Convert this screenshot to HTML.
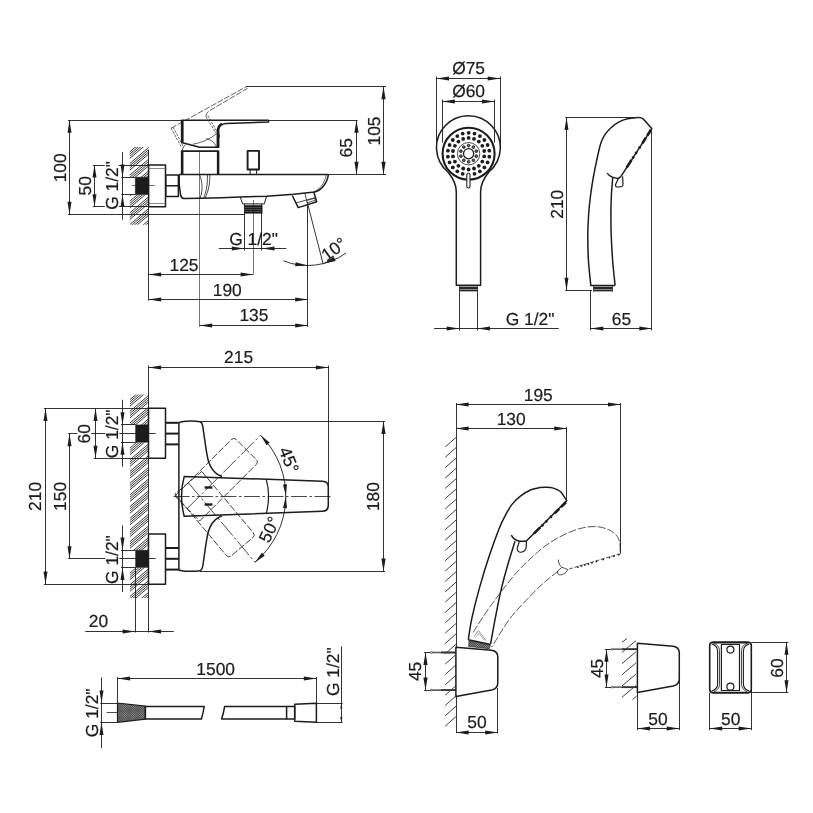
<!DOCTYPE html>
<html><head><meta charset="utf-8"><title>Drawing</title>
<style>
html,body{margin:0;padding:0;background:#fff;}
body{width:813px;height:813px;overflow:hidden;}
svg{display:block;will-change:transform;}
svg text{font-family:"Liberation Sans",sans-serif;fill:#1c1c1c;stroke:#1c1c1c;stroke-width:0.2px;letter-spacing:0;text-rendering:geometricPrecision;}
</style></head><body>
<svg width="813" height="813" viewBox="0 0 813 813" stroke-linecap="butt" stroke-linejoin="round">
<rect width="813" height="813" fill="#ffffff"/>
<line x1="68.0" y1="120.5" x2="181.5" y2="120.5" stroke="#1c1c1c" stroke-width="0.9"/>
<line x1="68.0" y1="214.5" x2="244.4" y2="214.5" stroke="#1c1c1c" stroke-width="0.9"/>
<line x1="69.5" y1="120.2" x2="69.5" y2="214.4" stroke="#1c1c1c" stroke-width="0.9"/>
<polygon points="69.5,120.2 71.5,132.8 67.5,132.8" fill="#1c1c1c"/>
<polygon points="69.5,214.4 67.5,201.8 71.5,201.8" fill="#1c1c1c"/>
<text x="65.8" y="167.8" font-size="17.4" text-anchor="middle" transform="rotate(-90 65.8 167.8)">100</text>
<line x1="92.8" y1="165.5" x2="148.6" y2="165.5" stroke="#1c1c1c" stroke-width="0.9"/>
<line x1="92.8" y1="206.5" x2="148.6" y2="206.5" stroke="#1c1c1c" stroke-width="0.9"/>
<line x1="94.5" y1="165.0" x2="94.5" y2="206.8" stroke="#1c1c1c" stroke-width="0.9"/>
<polygon points="94.5,165.0 96.5,177.6 92.5,177.6" fill="#1c1c1c"/>
<polygon points="94.5,206.8 92.5,194.2 96.5,194.2" fill="#1c1c1c"/>
<text x="90.6" y="185.8" font-size="17.4" text-anchor="middle" transform="rotate(-90 90.6 185.8)">50</text>
<line x1="122.5" y1="152.1" x2="122.5" y2="219.7" stroke="#1c1c1c" stroke-width="0.9"/>
<polygon points="122.5,177.2 120.5,164.6 124.5,164.6" fill="#1c1c1c"/>
<polygon points="122.5,194.5 124.5,207.1 120.5,207.1" fill="#1c1c1c"/>
<line x1="121.3" y1="177.5" x2="135.3" y2="177.5" stroke="#1c1c1c" stroke-width="0.9"/>
<line x1="121.3" y1="194.5" x2="135.3" y2="194.5" stroke="#1c1c1c" stroke-width="0.9"/>
<clipPath id="gh1"><path d="M129.8,147 L148.6,147 L148.6,177.2 L129.8,177.2 Z"/></clipPath>
<g clip-path="url(#gh1)" stroke="#222" stroke-width="0.9">
<line x1="149.6" y1="123.25" x2="128.8" y2="140.93"/>
<line x1="149.6" y1="125.45" x2="128.8" y2="143.13"/>
<line x1="149.6" y1="127.65" x2="128.8" y2="145.33"/>
<line x1="149.6" y1="129.85" x2="128.8" y2="147.53"/>
<line x1="149.6" y1="134.95" x2="128.8" y2="152.63"/>
<line x1="149.6" y1="137.15" x2="128.8" y2="154.83"/>
<line x1="149.6" y1="139.35" x2="128.8" y2="157.03"/>
<line x1="149.6" y1="141.55" x2="128.8" y2="159.23"/>
<line x1="149.6" y1="146.65" x2="128.8" y2="164.33"/>
<line x1="149.6" y1="148.85" x2="128.8" y2="166.53"/>
<line x1="149.6" y1="151.05" x2="128.8" y2="168.73"/>
<line x1="149.6" y1="153.25" x2="128.8" y2="170.93"/>
<line x1="149.6" y1="158.35" x2="128.8" y2="176.03"/>
<line x1="149.6" y1="160.55" x2="128.8" y2="178.23"/>
<line x1="149.6" y1="162.75" x2="128.8" y2="180.43"/>
<line x1="149.6" y1="164.95" x2="128.8" y2="182.63"/>
<line x1="149.6" y1="170.05" x2="128.8" y2="187.73"/>
<line x1="149.6" y1="172.25" x2="128.8" y2="189.93"/>
<line x1="149.6" y1="174.45" x2="128.8" y2="192.13"/>
<line x1="149.6" y1="176.65" x2="128.8" y2="194.33"/>
<line x1="149.6" y1="181.75" x2="128.8" y2="199.43"/>
<line x1="149.6" y1="183.95" x2="128.8" y2="201.63"/>
<line x1="149.6" y1="186.15" x2="128.8" y2="203.83"/>
<line x1="149.6" y1="188.35" x2="128.8" y2="206.03"/>
<line x1="149.6" y1="193.45" x2="128.8" y2="211.13"/>
<line x1="149.6" y1="195.65" x2="128.8" y2="213.33"/>
<line x1="149.6" y1="197.85" x2="128.8" y2="215.53"/>
<line x1="149.6" y1="200.05" x2="128.8" y2="217.73"/>
<line x1="149.6" y1="205.15" x2="128.8" y2="222.83"/>
<line x1="149.6" y1="207.35" x2="128.8" y2="225.03"/>
<line x1="149.6" y1="209.55" x2="128.8" y2="227.23"/>
<line x1="149.6" y1="211.75" x2="128.8" y2="229.43"/>
</g>
<clipPath id="gh2"><path d="M129.8,194.5 L148.6,194.5 L148.6,224.8 L129.8,224.8 Z"/></clipPath>
<g clip-path="url(#gh2)" stroke="#222" stroke-width="0.9">
<line x1="149.6" y1="172.65" x2="128.8" y2="190.33"/>
<line x1="149.6" y1="174.85" x2="128.8" y2="192.53"/>
<line x1="149.6" y1="177.05" x2="128.8" y2="194.73"/>
<line x1="149.6" y1="179.25" x2="128.8" y2="196.93"/>
<line x1="149.6" y1="184.35" x2="128.8" y2="202.03"/>
<line x1="149.6" y1="186.55" x2="128.8" y2="204.23"/>
<line x1="149.6" y1="188.75" x2="128.8" y2="206.43"/>
<line x1="149.6" y1="190.95" x2="128.8" y2="208.63"/>
<line x1="149.6" y1="196.05" x2="128.8" y2="213.73"/>
<line x1="149.6" y1="198.25" x2="128.8" y2="215.93"/>
<line x1="149.6" y1="200.45" x2="128.8" y2="218.13"/>
<line x1="149.6" y1="202.65" x2="128.8" y2="220.33"/>
<line x1="149.6" y1="207.75" x2="128.8" y2="225.43"/>
<line x1="149.6" y1="209.95" x2="128.8" y2="227.63"/>
<line x1="149.6" y1="212.15" x2="128.8" y2="229.83"/>
<line x1="149.6" y1="214.35" x2="128.8" y2="232.03"/>
<line x1="149.6" y1="219.45" x2="128.8" y2="237.13"/>
<line x1="149.6" y1="221.65" x2="128.8" y2="239.33"/>
<line x1="149.6" y1="223.85" x2="128.8" y2="241.53"/>
<line x1="149.6" y1="226.05" x2="128.8" y2="243.73"/>
<line x1="149.6" y1="231.15" x2="128.8" y2="248.83"/>
<line x1="149.6" y1="233.35" x2="128.8" y2="251.03"/>
<line x1="149.6" y1="235.55" x2="128.8" y2="253.23"/>
<line x1="149.6" y1="237.75" x2="128.8" y2="255.43"/>
<line x1="149.6" y1="242.85" x2="128.8" y2="260.53"/>
<line x1="149.6" y1="245.05" x2="128.8" y2="262.73"/>
<line x1="149.6" y1="247.25" x2="128.8" y2="264.93"/>
<line x1="149.6" y1="249.45" x2="128.8" y2="267.13"/>
<line x1="149.6" y1="254.55" x2="128.8" y2="272.23"/>
<line x1="149.6" y1="256.75" x2="128.8" y2="274.43"/>
<line x1="149.6" y1="258.95" x2="128.8" y2="276.63"/>
<line x1="149.6" y1="261.15" x2="128.8" y2="278.83"/>
</g>
<line x1="148.5" y1="150.0" x2="148.5" y2="300.5" stroke="#1c1c1c" stroke-width="0.9"/>
<rect x="135.3" y="177.2" width="13.3" height="17.3" fill="#1c1c1c" stroke="#1c1c1c" stroke-width="0.5"/>
<line x1="131.9" y1="185.5" x2="155.2" y2="185.5" stroke="#1c1c1c" stroke-width="0.6"/>
<rect x="148.6" y="165.0" width="16.9" height="41.8" fill="none" stroke="#1c1c1c" stroke-width="1.5"/>
<line x1="148.6" y1="168.5" x2="165.5" y2="168.5" stroke="#555" stroke-width="0.7"/>
<line x1="148.6" y1="203.5" x2="165.5" y2="203.5" stroke="#555" stroke-width="0.7"/>
<rect x="165.8" y="175.0" width="12.6" height="21.4" fill="none" stroke="#1c1c1c" stroke-width="1.5"/>
<line x1="165.8" y1="185.8" x2="178.4" y2="185.8" stroke="#1c1c1c" stroke-width="1.5"/>
<path d="M179.2,174.4 L328.5,174.4" fill="none" stroke="#1c1c1c" stroke-width="1.5" />
<path d="M179.2,174.4 C178.8,182 179.3,189 180.6,195 C181.2,197.5 182,198.4 184,198.4" fill="none" stroke="#1c1c1c" stroke-width="1.5" />
<path d="M184,198.4 L200.6,198.2 L221.5,197.7 L240,196.9 L266.5,196.3 L293.8,194.3 L314.5,192.1 C321,190.5 327,184 328.5,174.4" fill="none" stroke="#1c1c1c" stroke-width="1.5" />
<path d="M326.3,174.4 C325,183 320,189.5 313.5,191.9" fill="none" stroke="#1c1c1c" stroke-width="0.7" />
<path d="M199.6,174.8 C202.6,182 203,190 200.2,198" fill="none" stroke="#1c1c1c" stroke-width="0.8" />
<path d="M207.4,174.8 C207.8,185 206,192 203.7,198" fill="none" stroke="#1c1c1c" stroke-width="0.8" />
<path d="M209.8,174.8 C210,185 208,192 205,198" fill="none" stroke="#1c1c1c" stroke-width="0.8" />
<path d="M181.6,174.4 L181.6,151.2 L218.6,151.2 L218.6,174.4" fill="none" stroke="#1c1c1c" stroke-width="1.5" />
<line x1="181.0" y1="151.2" x2="219.0" y2="151.2" stroke="#1c1c1c" stroke-width="1.6"/>
<line x1="182.5" y1="151.2" x2="182.5" y2="174.4" stroke="#1c1c1c" stroke-width="1.9"/>
<line x1="217.8" y1="151.2" x2="217.8" y2="174.4" stroke="#1c1c1c" stroke-width="1.9"/>
<path d="M182,151.2 C182.5,148 184,146 185.5,144.5" fill="none" stroke="#1c1c1c" stroke-width="0.8" />
<path d="M181.6,120.2 L268.5,120.2 L268.5,122 L226,123.4 C221.5,123.8 218.9,126 218.7,130 L218.7,147.2 L199.5,147.2 L181.6,142.6 Z" fill="none" stroke="#1c1c1c" stroke-width="1.5" />
<line x1="182.6" y1="120.2" x2="182.6" y2="142.8" stroke="#1c1c1c" stroke-width="2.0"/>
<path d="M217.6,147.2 L217.6,131 C217.7,127.5 219,125 222,123.6" fill="none" stroke="#1c1c1c" stroke-width="2.0" />
<path d="M218.7,134 C219.6,135 219.6,137 218.7,138" fill="none" stroke="#1c1c1c" stroke-width="0.9" />
<line x1="199.5" y1="151.5" x2="199.5" y2="327.0" stroke="#1c1c1c" stroke-width="0.6"/>
<path d="M171.1,128.2 L246.9,86.4" fill="none" stroke="#1c1c1c" stroke-width="0.7" stroke-dasharray="6 1.6" />
<path d="M206,116.5 C206.3,113.5 207.3,112 209.3,110.8 L247.5,88.4" fill="none" stroke="#1c1c1c" stroke-width="0.7" stroke-dasharray="6 1.6" />
<path d="M171.1,128.2 L181.6,147.5" fill="none" stroke="#1c1c1c" stroke-width="0.7" stroke-dasharray="2.5 1.2" />
<path d="M173,127.1 L183.3,146.4" fill="none" stroke="#1c1c1c" stroke-width="0.7" stroke-dasharray="2.5 1.2" />
<path d="M206,116.5 L216.5,134.2" fill="none" stroke="#1c1c1c" stroke-width="0.7" stroke-dasharray="2.5 1.2" />
<path d="M207.8,115.6 L218,133.2" fill="none" stroke="#1c1c1c" stroke-width="0.7" stroke-dasharray="2.5 1.2" />
<path d="M192.7,144.2 C198,143.5 208,140.5 215.9,134.2" fill="none" stroke="#1c1c1c" stroke-width="0.7" />
<path d="M206,138.7 C211,139.5 215,142.5 216.5,147.5" fill="none" stroke="#1c1c1c" stroke-width="0.7" />
<rect x="247.6" y="150.9" width="11.4" height="18.6" fill="none" stroke="#1c1c1c" stroke-width="1.9"/>
<path d="M250.2,169.6 L250.2,174.4 M256.6,169.6 L256.6,174.4" fill="none" stroke="#1c1c1c" stroke-width="1.0" />
<path d="M240.2,196.9 L242.6,203.9 L264.3,203.9 L266.5,196.3" fill="none" stroke="#1c1c1c" stroke-width="1.0" />
<rect x="244.4" y="205.2" width="18.1" height="8.4" fill="#1c1c1c"/>
<line x1="244.4" y1="207.5" x2="262.5" y2="207.5" stroke="#777" stroke-width="0.5"/>
<line x1="244.4" y1="209.5" x2="262.5" y2="209.5" stroke="#777" stroke-width="0.5"/>
<line x1="244.4" y1="211.5" x2="262.5" y2="211.5" stroke="#777" stroke-width="0.5"/>
<line x1="244.5" y1="203.9" x2="244.5" y2="250.4" stroke="#1c1c1c" stroke-width="0.9"/>
<line x1="261.5" y1="203.9" x2="261.5" y2="250.4" stroke="#1c1c1c" stroke-width="0.9"/>
<line x1="253.5" y1="200.0" x2="253.5" y2="274.5" stroke="#1c1c1c" stroke-width="0.6"/>
<path d="M292.3,195.5 L298.2,207.6 L316.7,201.7 L313.7,191.8" fill="none" stroke="#1c1c1c" stroke-width="1.5" />
<path d="M296,203 L315.5,197.5" fill="none" stroke="#1c1c1c" stroke-width="0.8" />
<path d="M305,193.5 L306.5,200" fill="none" stroke="#1c1c1c" stroke-width="0.8" />
<path d="M306.5,200.6 L314.5,198.3 L315.2,200.3 L307.2,202.8 Z" fill="none" stroke="#1c1c1c" stroke-width="0.7" />
<line x1="307.1" y1="201.7" x2="323.2" y2="264.2" stroke="#1c1c1c" stroke-width="0.9"/>
<line x1="307.5" y1="204.6" x2="307.5" y2="327.0" stroke="#1c1c1c" stroke-width="0.9"/>
<path d="M283.3,260.8 A65.2,65.2 0 0 0 346,253" fill="none" stroke="#1c1c1c" stroke-width="0.9" />
<polygon points="307.8,265.5 295.2,266.2 295.6,262.2" fill="#1c1c1c"/>
<polygon points="323.2,263.7 334.0,257.1 335.6,260.9" fill="#1c1c1c"/>
<text x="337.3" y="254.0" font-size="17.4" text-anchor="middle" transform="rotate(-36 337.3 254.0)">10°</text>
<line x1="268.5" y1="120.5" x2="357.6" y2="120.5" stroke="#1c1c1c" stroke-width="0.9"/>
<line x1="328.5" y1="174.5" x2="386.0" y2="174.5" stroke="#1c1c1c" stroke-width="0.9"/>
<line x1="356.5" y1="120.2" x2="356.5" y2="174.4" stroke="#1c1c1c" stroke-width="0.9"/>
<polygon points="356.5,120.2 358.6,132.8 354.4,132.8" fill="#1c1c1c"/>
<polygon points="356.5,174.4 354.4,161.8 358.6,161.8" fill="#1c1c1c"/>
<text x="352.2" y="147.8" font-size="17.4" text-anchor="middle" transform="rotate(-90 352.2 147.8)">65</text>
<line x1="246.3" y1="86.5" x2="386.0" y2="86.5" stroke="#1c1c1c" stroke-width="0.9"/>
<line x1="383.5" y1="86.6" x2="383.5" y2="174.4" stroke="#1c1c1c" stroke-width="0.9"/>
<polygon points="383.5,86.6 385.6,99.2 381.4,99.2" fill="#1c1c1c"/>
<polygon points="383.5,174.4 381.4,161.8 385.6,161.8" fill="#1c1c1c"/>
<text x="379.6" y="131.0" font-size="17.4" text-anchor="middle" transform="rotate(-90 379.6 131.0)">105</text>
<line x1="218.8" y1="248.5" x2="286.4" y2="248.5" stroke="#1c1c1c" stroke-width="0.9"/>
<polygon points="244.4,248.5 231.8,250.6 231.8,246.4" fill="#1c1c1c"/>
<polygon points="261.9,248.5 274.5,246.4 274.5,250.6" fill="#1c1c1c"/>
<text x="253.6" y="244.5" font-size="17.4" text-anchor="middle">G 1/2&quot;</text>
<line x1="148.6" y1="274.5" x2="253.2" y2="274.5" stroke="#1c1c1c" stroke-width="0.9"/>
<polygon points="148.6,274.5 161.2,272.4 161.2,276.6" fill="#1c1c1c"/>
<polygon points="253.2,274.5 240.6,276.6 240.6,272.4" fill="#1c1c1c"/>
<text x="184.0" y="270.8" font-size="17.4" text-anchor="middle">125</text>
<line x1="148.6" y1="299.5" x2="307.8" y2="299.5" stroke="#1c1c1c" stroke-width="0.9"/>
<polygon points="148.6,299.5 161.2,297.4 161.2,301.6" fill="#1c1c1c"/>
<polygon points="307.8,299.5 295.2,301.6 295.2,297.4" fill="#1c1c1c"/>
<text x="227.3" y="295.8" font-size="17.4" text-anchor="middle">190</text>
<line x1="199.6" y1="325.5" x2="307.8" y2="325.5" stroke="#1c1c1c" stroke-width="0.9"/>
<polygon points="199.6,325.5 212.2,323.4 212.2,327.6" fill="#1c1c1c"/>
<polygon points="307.8,325.5 295.2,327.6 295.2,323.4" fill="#1c1c1c"/>
<text x="253.9" y="321.3" font-size="17.4" text-anchor="middle">135</text>
<rect x="93.5" y="172.2" width="49.0" height="14" fill="#fff" transform="rotate(-90 118.0 185.4)"/>
<text x="118.0" y="185.4" font-size="17.4" text-anchor="middle" transform="rotate(-90 118.0 185.4)">G 1/2&quot;</text>
<line x1="436.5" y1="76.5" x2="436.5" y2="147.5" stroke="#1c1c1c" stroke-width="0.9"/>
<line x1="500.5" y1="76.5" x2="500.5" y2="147.5" stroke="#1c1c1c" stroke-width="0.9"/>
<line x1="436.4" y1="78.5" x2="500.3" y2="78.5" stroke="#1c1c1c" stroke-width="0.9"/>
<polygon points="436.4,78.5 449.0,76.5 449.0,80.5" fill="#1c1c1c"/>
<polygon points="500.3,78.5 487.7,80.5 487.7,76.5" fill="#1c1c1c"/>
<text x="468.6" y="73.8" font-size="17.4" text-anchor="middle">Ø75</text>
<line x1="442.5" y1="99.5" x2="442.5" y2="142.5" stroke="#1c1c1c" stroke-width="0.9"/>
<line x1="494.5" y1="99.5" x2="494.5" y2="142.5" stroke="#1c1c1c" stroke-width="0.9"/>
<line x1="442.3" y1="101.5" x2="494.6" y2="101.5" stroke="#1c1c1c" stroke-width="0.9"/>
<polygon points="442.3,101.5 454.9,99.5 454.9,103.5" fill="#1c1c1c"/>
<polygon points="494.6,101.5 482.0,103.5 482.0,99.5" fill="#1c1c1c"/>
<text x="468.6" y="96.9" font-size="17.4" text-anchor="middle">Ø60</text>
<path d="M456.3,285.3 L456.3,192 C456.3,183.5 452.5,177.5 447.9,172 A31.9,31.9 0 1 1 488.9,172 C484.3,177.5 480.6,183.5 480.6,192 L480.6,285.3 Z" fill="none" stroke="#1c1c1c" stroke-width="1.5" />
<circle cx="468.6" cy="153.7" r="26.00" fill="none" stroke="#1c1c1c" stroke-width="2.1"/>
<circle cx="468.6" cy="132.8" r="1.90" fill="#1c1c1c" stroke="#1c1c1c" stroke-width="0"/>
<circle cx="474.5" cy="133.6" r="1.90" fill="#1c1c1c" stroke="#1c1c1c" stroke-width="0"/>
<circle cx="479.9" cy="136.1" r="1.90" fill="#1c1c1c" stroke="#1c1c1c" stroke-width="0"/>
<circle cx="484.4" cy="140.0" r="1.90" fill="#1c1c1c" stroke="#1c1c1c" stroke-width="0"/>
<circle cx="487.6" cy="145.0" r="1.90" fill="#1c1c1c" stroke="#1c1c1c" stroke-width="0"/>
<circle cx="489.3" cy="150.7" r="1.90" fill="#1c1c1c" stroke="#1c1c1c" stroke-width="0"/>
<circle cx="489.3" cy="156.7" r="1.90" fill="#1c1c1c" stroke="#1c1c1c" stroke-width="0"/>
<circle cx="487.6" cy="162.4" r="1.90" fill="#1c1c1c" stroke="#1c1c1c" stroke-width="0"/>
<circle cx="484.4" cy="167.4" r="1.90" fill="#1c1c1c" stroke="#1c1c1c" stroke-width="0"/>
<circle cx="479.9" cy="171.3" r="1.90" fill="#1c1c1c" stroke="#1c1c1c" stroke-width="0"/>
<circle cx="474.5" cy="173.8" r="1.90" fill="#1c1c1c" stroke="#1c1c1c" stroke-width="0"/>
<circle cx="462.7" cy="173.8" r="1.90" fill="#1c1c1c" stroke="#1c1c1c" stroke-width="0"/>
<circle cx="457.3" cy="171.3" r="1.90" fill="#1c1c1c" stroke="#1c1c1c" stroke-width="0"/>
<circle cx="452.8" cy="167.4" r="1.90" fill="#1c1c1c" stroke="#1c1c1c" stroke-width="0"/>
<circle cx="449.6" cy="162.4" r="1.90" fill="#1c1c1c" stroke="#1c1c1c" stroke-width="0"/>
<circle cx="447.9" cy="156.7" r="1.90" fill="#1c1c1c" stroke="#1c1c1c" stroke-width="0"/>
<circle cx="447.9" cy="150.7" r="1.90" fill="#1c1c1c" stroke="#1c1c1c" stroke-width="0"/>
<circle cx="449.6" cy="145.0" r="1.90" fill="#1c1c1c" stroke="#1c1c1c" stroke-width="0"/>
<circle cx="452.8" cy="140.0" r="1.90" fill="#1c1c1c" stroke="#1c1c1c" stroke-width="0"/>
<circle cx="457.3" cy="136.1" r="1.90" fill="#1c1c1c" stroke="#1c1c1c" stroke-width="0"/>
<circle cx="462.7" cy="133.6" r="1.90" fill="#1c1c1c" stroke="#1c1c1c" stroke-width="0"/>
<circle cx="468.6" cy="137.9" r="1.90" fill="#1c1c1c" stroke="#1c1c1c" stroke-width="0"/>
<circle cx="474.0" cy="138.9" r="1.90" fill="#1c1c1c" stroke="#1c1c1c" stroke-width="0"/>
<circle cx="478.8" cy="141.6" r="1.90" fill="#1c1c1c" stroke="#1c1c1c" stroke-width="0"/>
<circle cx="482.3" cy="145.8" r="1.90" fill="#1c1c1c" stroke="#1c1c1c" stroke-width="0"/>
<circle cx="484.2" cy="151.0" r="1.90" fill="#1c1c1c" stroke="#1c1c1c" stroke-width="0"/>
<circle cx="484.2" cy="156.4" r="1.90" fill="#1c1c1c" stroke="#1c1c1c" stroke-width="0"/>
<circle cx="482.3" cy="161.6" r="1.90" fill="#1c1c1c" stroke="#1c1c1c" stroke-width="0"/>
<circle cx="478.8" cy="165.8" r="1.90" fill="#1c1c1c" stroke="#1c1c1c" stroke-width="0"/>
<circle cx="474.0" cy="168.5" r="1.90" fill="#1c1c1c" stroke="#1c1c1c" stroke-width="0"/>
<circle cx="468.6" cy="169.5" r="1.90" fill="#1c1c1c" stroke="#1c1c1c" stroke-width="0"/>
<circle cx="463.2" cy="168.5" r="1.90" fill="#1c1c1c" stroke="#1c1c1c" stroke-width="0"/>
<circle cx="458.4" cy="165.8" r="1.90" fill="#1c1c1c" stroke="#1c1c1c" stroke-width="0"/>
<circle cx="454.9" cy="161.6" r="1.90" fill="#1c1c1c" stroke="#1c1c1c" stroke-width="0"/>
<circle cx="453.0" cy="156.4" r="1.90" fill="#1c1c1c" stroke="#1c1c1c" stroke-width="0"/>
<circle cx="453.0" cy="151.0" r="1.90" fill="#1c1c1c" stroke="#1c1c1c" stroke-width="0"/>
<circle cx="454.9" cy="145.8" r="1.90" fill="#1c1c1c" stroke="#1c1c1c" stroke-width="0"/>
<circle cx="458.4" cy="141.6" r="1.90" fill="#1c1c1c" stroke="#1c1c1c" stroke-width="0"/>
<circle cx="463.2" cy="138.9" r="1.90" fill="#1c1c1c" stroke="#1c1c1c" stroke-width="0"/>
<circle cx="468.6" cy="153.7" r="11.20" fill="none" stroke="#1c1c1c" stroke-width="0.8"/>
<circle cx="468.6" cy="153.7" r="5.10" fill="none" stroke="#1c1c1c" stroke-width="1.3"/>
<circle cx="468.6" cy="145.6" r="1.35" fill="#666" stroke="#1c1c1c" stroke-width="0.9"/>
<circle cx="473.4" cy="147.1" r="1.35" fill="#666" stroke="#1c1c1c" stroke-width="0.9"/>
<circle cx="476.3" cy="151.2" r="1.35" fill="#666" stroke="#1c1c1c" stroke-width="0.9"/>
<circle cx="476.3" cy="156.2" r="1.35" fill="#666" stroke="#1c1c1c" stroke-width="0.9"/>
<circle cx="473.4" cy="160.3" r="1.35" fill="#666" stroke="#1c1c1c" stroke-width="0.9"/>
<circle cx="468.6" cy="161.8" r="1.35" fill="#666" stroke="#1c1c1c" stroke-width="0.9"/>
<circle cx="463.8" cy="160.3" r="1.35" fill="#666" stroke="#1c1c1c" stroke-width="0.9"/>
<circle cx="460.9" cy="156.2" r="1.35" fill="#666" stroke="#1c1c1c" stroke-width="0.9"/>
<circle cx="460.9" cy="151.2" r="1.35" fill="#666" stroke="#1c1c1c" stroke-width="0.9"/>
<circle cx="463.8" cy="147.1" r="1.35" fill="#666" stroke="#1c1c1c" stroke-width="0.9"/>
<rect x="466.8" y="173.2" width="3.2" height="14.8" rx="1.5" fill="#fff" stroke="#1c1c1c" stroke-width="1.1"/>
<rect x="459.2" y="286.2" width="18.3" height="5.5" fill="#8a8a8a"/>
<line x1="459.2" y1="287.5" x2="477.5" y2="287.5" stroke="#1c1c1c" stroke-width="0.9"/>
<line x1="459.2" y1="288.5" x2="477.5" y2="288.5" stroke="#1c1c1c" stroke-width="0.9"/>
<line x1="459.2" y1="290.5" x2="477.5" y2="290.5" stroke="#1c1c1c" stroke-width="0.9"/>
<line x1="459.5" y1="286.2" x2="459.5" y2="291.7" stroke="#1c1c1c" stroke-width="0.8"/>
<line x1="477.5" y1="286.2" x2="477.5" y2="291.7" stroke="#1c1c1c" stroke-width="0.8"/>
<line x1="459.5" y1="291.7" x2="459.5" y2="330.4" stroke="#1c1c1c" stroke-width="0.9"/>
<line x1="477.5" y1="291.7" x2="477.5" y2="330.4" stroke="#1c1c1c" stroke-width="0.9"/>
<line x1="434.1" y1="328.5" x2="558.8" y2="328.5" stroke="#1c1c1c" stroke-width="0.9"/>
<polygon points="459.3,328.5 446.7,330.6 446.7,326.4" fill="#1c1c1c"/>
<polygon points="477.4,328.5 490.0,326.4 490.0,330.6" fill="#1c1c1c"/>
<text x="530.0" y="324.8" font-size="17.4" text-anchor="middle">G 1/2&quot;</text>
<line x1="565.3" y1="117.5" x2="637.6" y2="117.5" stroke="#1c1c1c" stroke-width="0.9"/>
<line x1="565.3" y1="290.5" x2="592.0" y2="290.5" stroke="#1c1c1c" stroke-width="0.9"/>
<line x1="566.5" y1="117.5" x2="566.5" y2="290.4" stroke="#1c1c1c" stroke-width="0.9"/>
<polygon points="566.5,117.5 568.5,130.1 564.5,130.1" fill="#1c1c1c"/>
<polygon points="566.5,290.4 564.5,277.8 568.5,277.8" fill="#1c1c1c"/>
<text x="563.3" y="204.2" font-size="17.4" text-anchor="middle" transform="rotate(-90 563.3 204.2)">210</text>
<line x1="590.5" y1="291.0" x2="590.5" y2="330.4" stroke="#1c1c1c" stroke-width="0.9"/>
<line x1="651.5" y1="128.6" x2="651.5" y2="330.4" stroke="#1c1c1c" stroke-width="0.9"/>
<line x1="590.8" y1="328.5" x2="651.9" y2="328.5" stroke="#1c1c1c" stroke-width="0.9"/>
<polygon points="590.8,328.5 603.4,326.4 603.4,330.6" fill="#1c1c1c"/>
<polygon points="651.9,328.5 639.3,330.6 639.3,326.4" fill="#1c1c1c"/>
<text x="621.4" y="324.8" font-size="17.4" text-anchor="middle">65</text>
<path d="M637.6,117.6 C635.9,117.8 630.8,118.0 627.6,118.8 C624.5,119.5 621.5,120.6 618.7,122.1 C615.9,123.6 613.4,125.5 611.0,127.7 C608.6,129.9 606.1,132.6 604.4,135.4 C602.6,138.2 601.8,140.1 600.5,144.3 C599.2,148.6 597.8,155.4 596.6,160.9 C595.4,166.4 594.3,171.8 593.3,177.5 C592.3,183.2 591.4,188.8 590.6,195.0 C589.8,201.2 589.1,208.0 588.6,215.0 C588.1,222.0 587.8,229.5 587.8,237.0 C587.8,244.5 587.9,251.9 588.4,260.0 C588.9,268.1 590.4,281.2 590.8,285.4 L615.1,285.4" fill="none" stroke="#1c1c1c" stroke-width="1.5" />
<path d="M615.1,285.4 C614.7,281.2 613.2,268.4 612.6,260.0 C612.0,251.6 611.5,243.0 611.2,235.0 C610.9,227.0 610.9,218.7 610.9,212.0 C610.9,205.3 611.1,200.8 611.4,195.0 C611.7,189.2 612.5,180.4 612.7,177.5" fill="none" stroke="#1c1c1c" stroke-width="1.5" />
<path d="M637.6,117.6 C640.5,117.4 642,117.8 643.3,119 L651.8,128.6 L621,176.4" fill="none" stroke="#1c1c1c" stroke-width="1.5" />
<path d="M651,129.8 L621.8,175.2" fill="none" stroke="#1c1c1c" stroke-width="2.6" stroke-dasharray="7 2.5 6.5 4 2 4.5 2 3.5 2 2 9 50"/>
<path d="M607.1,173.1 C609,175.5 613,178 618.2,178.6 L621,176.4" fill="none" stroke="#1c1c1c" stroke-width="1.5" />
<path d="M618.2,178.6 L615.5,184.8 C615.3,186.5 616.3,187 617.5,187 L621.5,186.6 C622.6,186.4 623,185.5 623,184 L622.6,176.4" fill="none" stroke="#1c1c1c" stroke-width="1.2" />
<rect x="593.8" y="286.2" width="18.4" height="5.5" fill="#8a8a8a"/>
<line x1="593.8" y1="287.5" x2="612.2" y2="287.5" stroke="#1c1c1c" stroke-width="0.9"/>
<line x1="593.8" y1="288.5" x2="612.2" y2="288.5" stroke="#1c1c1c" stroke-width="0.9"/>
<line x1="593.8" y1="290.5" x2="612.2" y2="290.5" stroke="#1c1c1c" stroke-width="0.9"/>
<line x1="593.5" y1="286.2" x2="593.5" y2="291.7" stroke="#1c1c1c" stroke-width="0.8"/>
<line x1="612.5" y1="286.2" x2="612.5" y2="291.7" stroke="#1c1c1c" stroke-width="0.8"/>
<line x1="148.5" y1="365.5" x2="148.5" y2="632.5" stroke="#1c1c1c" stroke-width="0.9"/>
<line x1="328.5" y1="365.5" x2="328.5" y2="490.0" stroke="#1c1c1c" stroke-width="0.9"/>
<line x1="148.5" y1="367.5" x2="328.4" y2="367.5" stroke="#1c1c1c" stroke-width="0.9"/>
<polygon points="148.5,367.5 161.1,365.4 161.1,369.6" fill="#1c1c1c"/>
<polygon points="328.4,367.5 315.8,369.6 315.8,365.4" fill="#1c1c1c"/>
<text x="238.6" y="363.3" font-size="17.4" text-anchor="middle">215</text>
<line x1="44.0" y1="408.5" x2="148.5" y2="408.5" stroke="#1c1c1c" stroke-width="0.9"/>
<line x1="44.0" y1="584.5" x2="148.5" y2="584.5" stroke="#1c1c1c" stroke-width="0.9"/>
<line x1="45.5" y1="408.3" x2="45.5" y2="584.2" stroke="#1c1c1c" stroke-width="0.9"/>
<polygon points="45.5,408.3 47.5,420.9 43.5,420.9" fill="#1c1c1c"/>
<polygon points="45.5,584.2 43.5,571.6 47.5,571.6" fill="#1c1c1c"/>
<text x="41.5" y="496.4" font-size="17.4" text-anchor="middle" transform="rotate(-90 41.5 496.4)">210</text>
<line x1="68.2" y1="433.5" x2="155.5" y2="433.5" stroke="#1c1c1c" stroke-width="0.9"/>
<line x1="68.2" y1="558.5" x2="155.5" y2="558.5" stroke="#1c1c1c" stroke-width="0.9"/>
<line x1="69.5" y1="433.6" x2="69.5" y2="558.8" stroke="#1c1c1c" stroke-width="0.9"/>
<polygon points="69.5,433.6 71.5,446.2 67.5,446.2" fill="#1c1c1c"/>
<polygon points="69.5,558.8 67.5,546.2 71.5,546.2" fill="#1c1c1c"/>
<text x="65.6" y="496.4" font-size="17.4" text-anchor="middle" transform="rotate(-90 65.6 496.4)">150</text>
<line x1="93.5" y1="458.5" x2="148.5" y2="458.5" stroke="#1c1c1c" stroke-width="0.9"/>
<line x1="95.5" y1="408.3" x2="95.5" y2="458.3" stroke="#1c1c1c" stroke-width="0.9"/>
<polygon points="95.5,408.3 97.5,420.9 93.5,420.9" fill="#1c1c1c"/>
<polygon points="95.5,458.3 93.5,445.7 97.5,445.7" fill="#1c1c1c"/>
<line x1="122.5" y1="399.8" x2="122.5" y2="466.7" stroke="#1c1c1c" stroke-width="0.9"/>
<polygon points="122.5,424.9 120.5,412.3 124.5,412.3" fill="#1c1c1c"/>
<polygon points="122.5,442.2 124.5,454.8 120.5,454.8" fill="#1c1c1c"/>
<line x1="121.0" y1="424.5" x2="135.6" y2="424.5" stroke="#1c1c1c" stroke-width="0.9"/>
<line x1="121.0" y1="442.5" x2="135.6" y2="442.5" stroke="#1c1c1c" stroke-width="0.9"/>
<line x1="122.5" y1="525.5" x2="122.5" y2="592.0" stroke="#1c1c1c" stroke-width="0.9"/>
<polygon points="122.5,550.2 120.5,537.6 124.5,537.6" fill="#1c1c1c"/>
<polygon points="122.5,567.4 124.5,580.0 120.5,580.0" fill="#1c1c1c"/>
<line x1="121.0" y1="550.5" x2="135.6" y2="550.5" stroke="#1c1c1c" stroke-width="0.9"/>
<line x1="121.0" y1="567.5" x2="135.6" y2="567.5" stroke="#1c1c1c" stroke-width="0.9"/>
<clipPath id="gh3"><path d="M130,394.6 L148.5,394.6 L148.5,424.9 L130,424.9 Z"/></clipPath>
<g clip-path="url(#gh3)" stroke="#222" stroke-width="0.9">
<line x1="149.5" y1="371.25" x2="129.0" y2="388.68"/>
<line x1="149.5" y1="373.45" x2="129.0" y2="390.88"/>
<line x1="149.5" y1="375.65" x2="129.0" y2="393.07"/>
<line x1="149.5" y1="377.85" x2="129.0" y2="395.28"/>
<line x1="149.5" y1="382.95" x2="129.0" y2="400.38"/>
<line x1="149.5" y1="385.15" x2="129.0" y2="402.57"/>
<line x1="149.5" y1="387.35" x2="129.0" y2="404.77"/>
<line x1="149.5" y1="389.55" x2="129.0" y2="406.98"/>
<line x1="149.5" y1="394.65" x2="129.0" y2="412.07"/>
<line x1="149.5" y1="396.85" x2="129.0" y2="414.27"/>
<line x1="149.5" y1="399.05" x2="129.0" y2="416.47"/>
<line x1="149.5" y1="401.25" x2="129.0" y2="418.68"/>
<line x1="149.5" y1="406.35" x2="129.0" y2="423.77"/>
<line x1="149.5" y1="408.55" x2="129.0" y2="425.97"/>
<line x1="149.5" y1="410.75" x2="129.0" y2="428.17"/>
<line x1="149.5" y1="412.95" x2="129.0" y2="430.38"/>
<line x1="149.5" y1="418.05" x2="129.0" y2="435.47"/>
<line x1="149.5" y1="420.25" x2="129.0" y2="437.67"/>
<line x1="149.5" y1="422.45" x2="129.0" y2="439.87"/>
<line x1="149.5" y1="424.65" x2="129.0" y2="442.07"/>
<line x1="149.5" y1="429.75" x2="129.0" y2="447.17"/>
<line x1="149.5" y1="431.95" x2="129.0" y2="449.37"/>
<line x1="149.5" y1="434.15" x2="129.0" y2="451.57"/>
<line x1="149.5" y1="436.35" x2="129.0" y2="453.77"/>
<line x1="149.5" y1="441.45" x2="129.0" y2="458.87"/>
<line x1="149.5" y1="443.65" x2="129.0" y2="461.07"/>
<line x1="149.5" y1="445.85" x2="129.0" y2="463.27"/>
<line x1="149.5" y1="448.05" x2="129.0" y2="465.47"/>
<line x1="149.5" y1="453.15" x2="129.0" y2="470.57"/>
<line x1="149.5" y1="455.35" x2="129.0" y2="472.77"/>
<line x1="149.5" y1="457.55" x2="129.0" y2="474.97"/>
<line x1="149.5" y1="459.75" x2="129.0" y2="477.17"/>
</g>
<clipPath id="gh4"><path d="M130,442.2 L148.5,442.2 L148.5,550.2 L130,550.2 Z"/></clipPath>
<g clip-path="url(#gh4)" stroke="#222" stroke-width="0.9">
<line x1="149.5" y1="419.75" x2="129.0" y2="437.18"/>
<line x1="149.5" y1="421.95" x2="129.0" y2="439.38"/>
<line x1="149.5" y1="424.15" x2="129.0" y2="441.57"/>
<line x1="149.5" y1="426.35" x2="129.0" y2="443.78"/>
<line x1="149.5" y1="431.45" x2="129.0" y2="448.88"/>
<line x1="149.5" y1="433.65" x2="129.0" y2="451.07"/>
<line x1="149.5" y1="435.85" x2="129.0" y2="453.27"/>
<line x1="149.5" y1="438.05" x2="129.0" y2="455.48"/>
<line x1="149.5" y1="443.15" x2="129.0" y2="460.57"/>
<line x1="149.5" y1="445.35" x2="129.0" y2="462.77"/>
<line x1="149.5" y1="447.55" x2="129.0" y2="464.97"/>
<line x1="149.5" y1="449.75" x2="129.0" y2="467.18"/>
<line x1="149.5" y1="454.85" x2="129.0" y2="472.27"/>
<line x1="149.5" y1="457.05" x2="129.0" y2="474.47"/>
<line x1="149.5" y1="459.25" x2="129.0" y2="476.67"/>
<line x1="149.5" y1="461.45" x2="129.0" y2="478.88"/>
<line x1="149.5" y1="466.55" x2="129.0" y2="483.97"/>
<line x1="149.5" y1="468.75" x2="129.0" y2="486.17"/>
<line x1="149.5" y1="470.95" x2="129.0" y2="488.37"/>
<line x1="149.5" y1="473.15" x2="129.0" y2="490.57"/>
<line x1="149.5" y1="478.25" x2="129.0" y2="495.67"/>
<line x1="149.5" y1="480.45" x2="129.0" y2="497.87"/>
<line x1="149.5" y1="482.65" x2="129.0" y2="500.07"/>
<line x1="149.5" y1="484.85" x2="129.0" y2="502.27"/>
<line x1="149.5" y1="489.95" x2="129.0" y2="507.37"/>
<line x1="149.5" y1="492.15" x2="129.0" y2="509.57"/>
<line x1="149.5" y1="494.35" x2="129.0" y2="511.77"/>
<line x1="149.5" y1="496.55" x2="129.0" y2="513.97"/>
<line x1="149.5" y1="501.65" x2="129.0" y2="519.07"/>
<line x1="149.5" y1="503.85" x2="129.0" y2="521.27"/>
<line x1="149.5" y1="506.05" x2="129.0" y2="523.47"/>
<line x1="149.5" y1="508.25" x2="129.0" y2="525.67"/>
<line x1="149.5" y1="513.35" x2="129.0" y2="530.77"/>
<line x1="149.5" y1="515.55" x2="129.0" y2="532.97"/>
<line x1="149.5" y1="517.75" x2="129.0" y2="535.17"/>
<line x1="149.5" y1="519.95" x2="129.0" y2="537.37"/>
<line x1="149.5" y1="525.05" x2="129.0" y2="542.47"/>
<line x1="149.5" y1="527.25" x2="129.0" y2="544.67"/>
<line x1="149.5" y1="529.45" x2="129.0" y2="546.87"/>
<line x1="149.5" y1="531.65" x2="129.0" y2="549.07"/>
<line x1="149.5" y1="536.75" x2="129.0" y2="554.17"/>
<line x1="149.5" y1="538.95" x2="129.0" y2="556.38"/>
<line x1="149.5" y1="541.15" x2="129.0" y2="558.57"/>
<line x1="149.5" y1="543.35" x2="129.0" y2="560.77"/>
<line x1="149.5" y1="548.45" x2="129.0" y2="565.88"/>
<line x1="149.5" y1="550.65" x2="129.0" y2="568.08"/>
<line x1="149.5" y1="552.85" x2="129.0" y2="570.27"/>
<line x1="149.5" y1="555.05" x2="129.0" y2="572.48"/>
<line x1="149.5" y1="560.15" x2="129.0" y2="577.58"/>
<line x1="149.5" y1="562.35" x2="129.0" y2="579.78"/>
<line x1="149.5" y1="564.55" x2="129.0" y2="581.98"/>
<line x1="149.5" y1="566.75" x2="129.0" y2="584.18"/>
<line x1="149.5" y1="571.85" x2="129.0" y2="589.28"/>
<line x1="149.5" y1="574.05" x2="129.0" y2="591.48"/>
<line x1="149.5" y1="576.25" x2="129.0" y2="593.68"/>
<line x1="149.5" y1="578.45" x2="129.0" y2="595.88"/>
</g>
<clipPath id="gh5"><path d="M130,567.4 L148.5,567.4 L148.5,598 L130,598 Z"/></clipPath>
<g clip-path="url(#gh5)" stroke="#222" stroke-width="0.9">
<line x1="149.5" y1="544.75" x2="129.0" y2="562.17"/>
<line x1="149.5" y1="546.95" x2="129.0" y2="564.37"/>
<line x1="149.5" y1="549.15" x2="129.0" y2="566.57"/>
<line x1="149.5" y1="551.35" x2="129.0" y2="568.77"/>
<line x1="149.5" y1="556.45" x2="129.0" y2="573.87"/>
<line x1="149.5" y1="558.65" x2="129.0" y2="576.07"/>
<line x1="149.5" y1="560.85" x2="129.0" y2="578.27"/>
<line x1="149.5" y1="563.05" x2="129.0" y2="580.47"/>
<line x1="149.5" y1="568.15" x2="129.0" y2="585.57"/>
<line x1="149.5" y1="570.35" x2="129.0" y2="587.77"/>
<line x1="149.5" y1="572.55" x2="129.0" y2="589.97"/>
<line x1="149.5" y1="574.75" x2="129.0" y2="592.17"/>
<line x1="149.5" y1="579.85" x2="129.0" y2="597.27"/>
<line x1="149.5" y1="582.05" x2="129.0" y2="599.48"/>
<line x1="149.5" y1="584.25" x2="129.0" y2="601.67"/>
<line x1="149.5" y1="586.45" x2="129.0" y2="603.88"/>
<line x1="149.5" y1="591.55" x2="129.0" y2="608.98"/>
<line x1="149.5" y1="593.75" x2="129.0" y2="611.18"/>
<line x1="149.5" y1="595.95" x2="129.0" y2="613.38"/>
<line x1="149.5" y1="598.15" x2="129.0" y2="615.58"/>
<line x1="149.5" y1="603.25" x2="129.0" y2="620.68"/>
<line x1="149.5" y1="605.45" x2="129.0" y2="622.88"/>
<line x1="149.5" y1="607.65" x2="129.0" y2="625.08"/>
<line x1="149.5" y1="609.85" x2="129.0" y2="627.28"/>
<line x1="149.5" y1="614.95" x2="129.0" y2="632.38"/>
<line x1="149.5" y1="617.15" x2="129.0" y2="634.58"/>
<line x1="149.5" y1="619.35" x2="129.0" y2="636.78"/>
<line x1="149.5" y1="621.55" x2="129.0" y2="638.98"/>
<line x1="149.5" y1="626.65" x2="129.0" y2="644.08"/>
<line x1="149.5" y1="628.85" x2="129.0" y2="646.28"/>
<line x1="149.5" y1="631.05" x2="129.0" y2="648.48"/>
<line x1="149.5" y1="633.25" x2="129.0" y2="650.68"/>
</g>
<rect x="135.6" y="424.9" width="12.9" height="17.3" fill="#1c1c1c" stroke="#1c1c1c" stroke-width="0.5"/>
<rect x="135.6" y="550.2" width="12.9" height="17.2" fill="#1c1c1c" stroke="#1c1c1c" stroke-width="0.5"/>
<rect x="148.5" y="408.3" width="17.0" height="50.0" fill="none" stroke="#1c1c1c" stroke-width="1.5"/>
<rect x="148.5" y="534.0" width="17.0" height="50.2" fill="none" stroke="#1c1c1c" stroke-width="1.5"/>
<line x1="165.5" y1="422.8" x2="178.9" y2="422.8" stroke="#1c1c1c" stroke-width="2.0"/>
<line x1="165.5" y1="433.6" x2="178.9" y2="433.6" stroke="#1c1c1c" stroke-width="2.0"/>
<line x1="165.5" y1="444.4" x2="178.9" y2="444.4" stroke="#1c1c1c" stroke-width="2.0"/>
<line x1="165.5" y1="548.0" x2="178.9" y2="548.0" stroke="#1c1c1c" stroke-width="2.0"/>
<line x1="165.5" y1="558.8" x2="178.9" y2="558.8" stroke="#1c1c1c" stroke-width="2.0"/>
<line x1="165.5" y1="569.6" x2="178.9" y2="569.6" stroke="#1c1c1c" stroke-width="2.0"/>
<line x1="135.5" y1="567.4" x2="135.5" y2="632.5" stroke="#1c1c1c" stroke-width="0.9"/>
<line x1="85.2" y1="631.5" x2="173.8" y2="631.5" stroke="#1c1c1c" stroke-width="0.9"/>
<polygon points="135.2,631.5 122.6,633.5 122.6,629.5" fill="#1c1c1c"/>
<polygon points="148.5,631.5 161.1,629.5 161.1,633.5" fill="#1c1c1c"/>
<text x="98.5" y="627.2" font-size="17.4" text-anchor="middle">20</text>
<line x1="199.9" y1="421.5" x2="385.0" y2="421.5" stroke="#1c1c1c" stroke-width="0.9"/>
<line x1="199.9" y1="571.5" x2="385.0" y2="571.5" stroke="#1c1c1c" stroke-width="0.9"/>
<line x1="383.5" y1="421.3" x2="383.5" y2="571.2" stroke="#1c1c1c" stroke-width="0.9"/>
<polygon points="383.5,421.3 385.6,433.9 381.4,433.9" fill="#1c1c1c"/>
<polygon points="383.5,571.2 381.4,558.6 385.6,558.6" fill="#1c1c1c"/>
<text x="379.5" y="496.6" font-size="17.4" text-anchor="middle" transform="rotate(-90 379.5 496.6)">180</text>
<path d="M178.9,422.9 L178.9,569.5" fill="none" stroke="#1c1c1c" stroke-width="1.5" />
<path d="M178.9,422.9 C179.2,422.7 179.2,422.2 180.5,421.9 C181.8,421.6 183.6,421.3 186.6,421.2 C189.6,421.1 195.9,421.1 198.4,421.4 C200.9,421.7 200.9,422.1 201.6,423.0 C202.3,423.9 202.4,424.3 202.8,426.6 C203.2,428.9 203.7,432.7 204.3,436.9 C204.9,441.1 205.8,447.5 206.5,451.7 C207.2,455.9 207.7,459.1 208.7,462.0 C209.7,464.9 211.1,467.4 212.4,469.4 C213.8,471.4 215.2,472.6 216.8,473.8 C218.4,475.0 221.1,476.1 222.0,476.6" fill="none" stroke="#1c1c1c" stroke-width="1.5" />
<path d="M178.9,569.5 C179.2,569.7 179.2,570.2 180.5,570.5 C181.8,570.8 183.6,571.1 186.6,571.2 C189.6,571.3 195.9,571.3 198.4,571.0 C200.9,570.7 200.9,570.3 201.6,569.4 C202.3,568.5 202.4,568.1 202.8,565.8 C203.2,563.5 203.7,559.7 204.3,555.5 C204.9,551.3 205.8,544.9 206.5,540.7 C207.2,536.5 207.7,533.4 208.7,530.4 C209.7,527.4 211.1,525.0 212.4,523.0 C213.8,521.0 215.2,519.8 216.8,518.6 C218.4,517.4 221.1,516.3 222.0,515.8" fill="none" stroke="#1c1c1c" stroke-width="1.5" />
<path d="M184.2,476.4 L322.5,481.3 C326.5,481.5 328.3,483.3 328.3,487 L328.3,505.6 C328.3,509.3 326.5,511.1 322.5,511.3 L184.2,516.2 C182.6,510 181.5,503 181.5,496.3 C181.5,489.5 182.6,482.5 184.2,476.4 Z" fill="none" stroke="#1c1c1c" stroke-width="1.5" />
<path d="M266.3,479.3 C269.2,490 269.2,502.5 266.3,513.3" fill="none" stroke="#1c1c1c" stroke-width="1.2" />
<line x1="204.6" y1="487.5" x2="212.4" y2="487.5" stroke="#1c1c1c" stroke-width="2.4"/>
<line x1="204.6" y1="504.5" x2="212.4" y2="504.5" stroke="#1c1c1c" stroke-width="2.4"/>
<line x1="173.5" y1="496.5" x2="332.5" y2="496.5" stroke="#1c1c1c" stroke-width="0.8" stroke-dasharray="16 2.5 2.5 2.5"/>
<path d="M174.8,496.1 L231.3,439.6 Q233.8,437.1 236.3,439.6 L256.2,459.5 Q258.7,462.0 256.2,464.5 L199.7,521.0 Z" fill="none" stroke="#1c1c1c" stroke-width="0.85" stroke-dasharray="7 1.8" />
<line x1="187.2" y1="508.6" x2="260.7" y2="435.1" stroke="#1c1c1c" stroke-width="0.8" stroke-dasharray="18 2.5 2.5 2.5"/>
<path d="M201.8,471.5 L253.3,532.8 Q255.5,535.4 252.8,537.7 L231.2,555.8 Q228.5,558.1 226.3,555.4 L174.9,494.1 Z" fill="none" stroke="#1c1c1c" stroke-width="0.85" stroke-dasharray="7 1.8" />
<line x1="188.4" y1="482.8" x2="255.1" y2="562.4" stroke="#1c1c1c" stroke-width="0.8" stroke-dasharray="18 2.5 2.5 2.5"/>
<path d="M260.6,435.2 A86.2,86.2 0 0 1 255.0,562.2" fill="none" stroke="#1c1c1c" stroke-width="0.9" />
<polygon points="260.6,435.2 269.6,442.6 266.6,445.3" fill="#1c1c1c"/>
<polygon points="255.0,562.2 261.9,552.8 264.7,555.7" fill="#1c1c1c"/>
<polygon points="285.8,495.8 283.0,484.5 287.0,484.2" fill="#1c1c1c"/>
<polygon points="285.8,496.6 287.0,508.2 283.0,507.9" fill="#1c1c1c"/>
<text x="283.5" y="462.3" font-size="17.4" text-anchor="middle" transform="rotate(68 283.5 462.3)">45°</text>
<text x="274.7" y="532.0" font-size="17.4" text-anchor="middle" transform="rotate(-64.5 274.7 532.0)">50°</text>
<rect x="80.5" y="420.6" width="20.0" height="14" fill="#fff" transform="rotate(-90 90.5 433.8)"/>
<text x="90.5" y="433.8" font-size="17.4" text-anchor="middle" transform="rotate(-90 90.5 433.8)">60</text>
<rect x="94.5" y="420.6" width="48.0" height="14" fill="#fff" transform="rotate(-90 118.5 433.8)"/>
<text x="118.5" y="433.8" font-size="17.4" text-anchor="middle" transform="rotate(-90 118.5 433.8)">G 1/2&quot;</text>
<rect x="94.5" y="546.4" width="48.0" height="14" fill="#fff" transform="rotate(-90 118.5 559.6)"/>
<text x="118.5" y="559.6" font-size="17.4" text-anchor="middle" transform="rotate(-90 118.5 559.6)">G 1/2&quot;</text>
<line x1="117.5" y1="677.0" x2="117.5" y2="722.3" stroke="#1c1c1c" stroke-width="0.9"/>
<line x1="316.5" y1="677.0" x2="316.5" y2="703.0" stroke="#1c1c1c" stroke-width="0.9"/>
<line x1="117.5" y1="678.5" x2="316.4" y2="678.5" stroke="#1c1c1c" stroke-width="0.9"/>
<polygon points="117.5,678.5 130.1,676.5 130.1,680.5" fill="#1c1c1c"/>
<polygon points="316.4,678.5 303.8,680.5 303.8,676.5" fill="#1c1c1c"/>
<text x="215.7" y="675.0" font-size="17.4" text-anchor="middle">1500</text>
<line x1="101.5" y1="677.6" x2="101.5" y2="748.2" stroke="#1c1c1c" stroke-width="0.9"/>
<polygon points="101.5,703.0 99.5,690.4 103.5,690.4" fill="#1c1c1c"/>
<polygon points="101.5,722.3 103.5,734.9 99.5,734.9" fill="#1c1c1c"/>
<line x1="100.3" y1="703.5" x2="117.5" y2="703.5" stroke="#1c1c1c" stroke-width="0.9"/>
<line x1="100.3" y1="722.5" x2="117.5" y2="722.5" stroke="#1c1c1c" stroke-width="0.9"/>
<line x1="106.7" y1="712.5" x2="117.5" y2="712.5" stroke="#1c1c1c" stroke-width="0.8"/>
<text x="98.3" y="712.8" font-size="17.4" text-anchor="middle" transform="rotate(-90 98.3 712.8)">G 1/2&quot;</text>
<pattern id="kn" width="1.6" height="1.6" patternUnits="userSpaceOnUse" patternTransform="rotate(45)"><rect width="1.6" height="1.6" fill="#2a2a2a"/><rect x="0.15" y="0.15" width="0.9" height="0.9" fill="#e0e0e0"/></pattern>
<path d="M117.5,703 L145.4,706.2 L145.4,719.1 L117.5,722.3 Z" fill="url(#kn)" stroke="#1c1c1c" stroke-width="1.2" />
<path d="M145.4,706.5 L204.2,706.5 C203.5,711 202.6,715 201.4,719 L145.4,719" fill="none" stroke="#1c1c1c" stroke-width="1.5" />
<line x1="145.4" y1="705.8" x2="145.4" y2="719.8" stroke="#1c1c1c" stroke-width="1.5"/>
<path d="M286.6,706.6 L224.6,706.6 C223.9,711 222.9,715 221.7,719 L286.6,719" fill="none" stroke="#1c1c1c" stroke-width="1.5" />
<rect x="286.6" y="706.6" width="8.1" height="12.4" fill="none" stroke="#1c1c1c" stroke-width="1.5"/>
<path d="M294.7,704.2 L316.4,703.2 L316.4,722.3 L294.7,721.3 Z" fill="none" stroke="#1c1c1c" stroke-width="1.5" />
<line x1="316.4" y1="703.5" x2="342.6" y2="703.5" stroke="#1c1c1c" stroke-width="0.9"/>
<line x1="316.4" y1="722.5" x2="342.6" y2="722.5" stroke="#1c1c1c" stroke-width="0.9"/>
<line x1="341.5" y1="646.4" x2="341.5" y2="722.3" stroke="#1c1c1c" stroke-width="0.9"/>
<polygon points="341.3,703.4 342.4,708.4 340.2,708.4" fill="#1c1c1c"/>
<polygon points="341.3,722.1 340.2,717.1 342.4,717.1" fill="#1c1c1c"/>
<text x="339.3" y="671.7" font-size="17.4" text-anchor="middle" transform="rotate(-90 339.3 671.7)">G 1/2&quot;</text>
<line x1="456.5" y1="403.0" x2="456.5" y2="733.2" stroke="#1c1c1c" stroke-width="0.9"/>
<line x1="620.5" y1="403.0" x2="620.5" y2="553.6" stroke="#1c1c1c" stroke-width="0.9"/>
<line x1="566.5" y1="427.0" x2="566.5" y2="501.0" stroke="#1c1c1c" stroke-width="0.9"/>
<line x1="456.0" y1="404.5" x2="620.6" y2="404.5" stroke="#1c1c1c" stroke-width="0.9"/>
<polygon points="456.0,404.5 468.6,402.4 468.6,406.6" fill="#1c1c1c"/>
<polygon points="620.6,404.5 608.0,406.6 608.0,402.4" fill="#1c1c1c"/>
<text x="538.3" y="400.8" font-size="17.4" text-anchor="middle">195</text>
<line x1="456.0" y1="428.5" x2="566.8" y2="428.5" stroke="#1c1c1c" stroke-width="0.9"/>
<polygon points="456.0,428.5 468.6,426.4 468.6,430.6" fill="#1c1c1c"/>
<polygon points="566.8,428.5 554.2,430.6 554.2,426.4" fill="#1c1c1c"/>
<text x="511.2" y="424.6" font-size="17.4" text-anchor="middle">130</text>
<line x1="456.0" y1="437.4" x2="445.2" y2="447.0" stroke="#1c1c1c" stroke-width="0.85"/>
<line x1="456.0" y1="447.7" x2="445.2" y2="457.3" stroke="#1c1c1c" stroke-width="0.85"/>
<line x1="456.0" y1="458.1" x2="445.2" y2="467.7" stroke="#1c1c1c" stroke-width="0.85"/>
<line x1="456.0" y1="468.4" x2="445.2" y2="478.0" stroke="#1c1c1c" stroke-width="0.85"/>
<line x1="456.0" y1="478.8" x2="445.2" y2="488.4" stroke="#1c1c1c" stroke-width="0.85"/>
<line x1="456.0" y1="489.1" x2="445.2" y2="498.7" stroke="#1c1c1c" stroke-width="0.85"/>
<line x1="456.0" y1="499.4" x2="445.2" y2="509.0" stroke="#1c1c1c" stroke-width="0.85"/>
<line x1="456.0" y1="509.8" x2="445.2" y2="519.4" stroke="#1c1c1c" stroke-width="0.85"/>
<line x1="456.0" y1="520.1" x2="445.2" y2="529.7" stroke="#1c1c1c" stroke-width="0.85"/>
<line x1="456.0" y1="530.5" x2="445.2" y2="540.1" stroke="#1c1c1c" stroke-width="0.85"/>
<line x1="456.0" y1="540.8" x2="445.2" y2="550.4" stroke="#1c1c1c" stroke-width="0.85"/>
<line x1="456.0" y1="551.1" x2="445.2" y2="560.7" stroke="#1c1c1c" stroke-width="0.85"/>
<line x1="456.0" y1="561.5" x2="445.2" y2="571.1" stroke="#1c1c1c" stroke-width="0.85"/>
<line x1="456.0" y1="571.8" x2="445.2" y2="581.4" stroke="#1c1c1c" stroke-width="0.85"/>
<line x1="456.0" y1="582.2" x2="445.2" y2="591.8" stroke="#1c1c1c" stroke-width="0.85"/>
<line x1="456.0" y1="592.5" x2="445.2" y2="602.1" stroke="#1c1c1c" stroke-width="0.85"/>
<line x1="456.0" y1="602.8" x2="445.2" y2="612.4" stroke="#1c1c1c" stroke-width="0.85"/>
<line x1="456.0" y1="613.2" x2="445.2" y2="622.8" stroke="#1c1c1c" stroke-width="0.85"/>
<line x1="456.0" y1="623.5" x2="445.2" y2="633.1" stroke="#1c1c1c" stroke-width="0.85"/>
<line x1="456.0" y1="633.9" x2="445.2" y2="643.5" stroke="#1c1c1c" stroke-width="0.85"/>
<line x1="456.0" y1="644.2" x2="445.2" y2="653.8" stroke="#1c1c1c" stroke-width="0.85"/>
<line x1="456.0" y1="654.5" x2="445.2" y2="664.1" stroke="#1c1c1c" stroke-width="0.85"/>
<line x1="456.0" y1="664.9" x2="445.2" y2="674.5" stroke="#1c1c1c" stroke-width="0.85"/>
<line x1="456.0" y1="675.2" x2="445.2" y2="684.8" stroke="#1c1c1c" stroke-width="0.85"/>
<line x1="456.0" y1="685.6" x2="445.2" y2="695.2" stroke="#1c1c1c" stroke-width="0.85"/>
<line x1="456.0" y1="695.9" x2="445.2" y2="705.5" stroke="#1c1c1c" stroke-width="0.85"/>
<line x1="456.0" y1="706.2" x2="445.2" y2="715.8" stroke="#1c1c1c" stroke-width="0.85"/>
<line x1="456.0" y1="716.6" x2="445.2" y2="726.2" stroke="#1c1c1c" stroke-width="0.85"/>
<path d="M468.3,639.7 C468.9,636.0 470.1,626.2 472.0,617.6 C473.9,609.0 476.5,598.4 479.4,588.1 C482.3,577.9 485.9,566.0 489.2,556.1 C492.5,546.2 496.3,535.8 499.0,529.0 C501.7,522.2 503.0,519.7 505.2,515.6 C507.4,511.5 509.4,507.7 512.0,504.4 C514.6,501.1 517.5,498.2 520.7,495.8 C523.9,493.4 527.9,491.2 531.0,489.8 C534.1,488.4 537.0,488.0 539.6,487.6 C542.2,487.2 544.2,487.1 546.5,487.2 C548.8,487.3 551.1,487.4 553.4,488.1 C555.7,488.8 558.4,490.0 560.3,491.5 C562.2,493.0 563.9,496.3 564.6,497.3 L566.8,500.6 L526.1,541.3" fill="none" stroke="#1c1c1c" stroke-width="1.5" />
<path d="M566,502.2 L527,540.4" fill="none" stroke="#1c1c1c" stroke-width="2.6" stroke-dasharray="7 2.5 6.5 4 2 4.5 2 3.5 2 2 9 50"/>
<path d="M511.3,535.2 C513,538.5 516,540.8 519.9,541.3 L526.1,541.3" fill="none" stroke="#1c1c1c" stroke-width="1.5" />
<path d="M519.3,541.6 L517.2,548.2 C516.8,551 518.8,552.6 521.5,552.2 C524.5,551.5 526,549.5 526.2,547 L526.5,541.3" fill="none" stroke="#1c1c1c" stroke-width="1.2" />
<path d="M515.0,541.3 C514.0,544.6 511.1,553.2 508.9,561.0 C506.6,568.8 503.8,578.7 501.5,588.1 C499.2,597.5 497.2,608.3 495.4,617.6 C493.6,626.9 491.4,639.4 490.6,643.8" fill="none" stroke="#1c1c1c" stroke-width="1.5" />
<path d="M468.3,639.7 L490.6,644.6" fill="none" stroke="#1c1c1c" stroke-width="1.5" />
<path d="M469,640.5 L490.3,645.3 L489.4,648.7 L468.6,646.4 Z" fill="url(#kn)" stroke="#1c1c1c" stroke-width="0.6" />
<path d="M474,636.5 L478.5,630.5 L486,640.5" fill="none" stroke="#555" stroke-width="0.6" />
<path d="M475.5,637.5 L479,633.5 L484,640" fill="none" stroke="#777" stroke-width="0.6" />
<path d="M473.2,632.4 C475.9,628.3 482.4,617.2 489.2,607.8 C496.0,598.4 506.3,584.6 513.8,575.8 C521.3,567.0 528.1,560.7 534.4,555.0 C540.7,549.3 546.0,545.2 551.7,541.5 C557.5,537.8 563.7,534.8 568.9,532.5 C574.1,530.2 578.1,528.9 582.7,527.9 C587.3,526.9 592.1,526.3 596.4,526.6 C600.7,526.9 605.2,528.2 608.5,529.6 C611.8,531.0 614.1,532.9 616.0,535.0 C617.9,537.1 618.9,539.0 619.6,542.0 C620.3,545.0 620.1,551.0 620.2,552.8" fill="none" stroke="#1c1c1c" stroke-width="0.75" stroke-dasharray="8 2" />
<path d="M620.4,553.6 L567.9,569.4" fill="none" stroke="#1c1c1c" stroke-width="0.75" stroke-dasharray="4 1.5" />
<path d="M619.5,554.6 L569,569.8" fill="none" stroke="#1c1c1c" stroke-width="1.5" stroke-dasharray="1.6 3.4 1.6 3 1.6 5 1.6 5.5 1.6 3 1.6 2.2 1.6 2.2 1.6 2 1.6 2 1.6 50"/>
<path d="M558.3,559.5 C558.4,563 559.8,566 561.8,567.2 L567.9,569.6" fill="none" stroke="#1c1c1c" stroke-width="0.8" />
<path d="M561.8,567.4 L558.3,570.5 C556.8,572.5 557.5,574.3 559.5,574.8 C562.5,575.2 566,573 567.9,569.6" fill="none" stroke="#1c1c1c" stroke-width="0.8" />
<path d="M558.3,571.0 C555.8,573.0 548.7,578.3 543.3,583.2 C537.9,588.1 531.8,594.3 526.1,600.4 C520.4,606.5 514.6,612.2 508.9,620.0 C503.2,627.8 494.6,642.6 491.7,647.1" fill="none" stroke="#1c1c1c" stroke-width="0.75" stroke-dasharray="8 2" />
<line x1="424.0" y1="652.5" x2="456.0" y2="652.5" stroke="#1c1c1c" stroke-width="0.9"/>
<line x1="424.0" y1="690.5" x2="456.0" y2="690.5" stroke="#1c1c1c" stroke-width="0.9"/>
<line x1="432.0" y1="652.5" x2="456.0" y2="652.5" stroke="#666" stroke-width="1.7"/>
<line x1="432.0" y1="690.1" x2="456.0" y2="690.1" stroke="#666" stroke-width="1.7"/>
<line x1="441.0" y1="652.5" x2="456.0" y2="652.5" stroke="#333" stroke-width="1.7"/>
<line x1="441.0" y1="690.1" x2="456.0" y2="690.1" stroke="#333" stroke-width="1.7"/>
<circle cx="431.3" cy="652.5" r="0.90" fill="#fff" stroke="#1c1c1c" stroke-width="0.6"/>
<circle cx="431.3" cy="690.1" r="0.90" fill="#fff" stroke="#1c1c1c" stroke-width="0.6"/>
<line x1="425.5" y1="652.5" x2="425.5" y2="690.1" stroke="#1c1c1c" stroke-width="0.9"/>
<polygon points="425.5,652.5 427.6,665.1 423.4,665.1" fill="#1c1c1c"/>
<polygon points="425.5,690.1 423.4,677.5 427.6,677.5" fill="#1c1c1c"/>
<text x="421.3" y="671.4" font-size="17.4" text-anchor="middle" transform="rotate(-90 421.3 671.4)">45</text>
<path d="M455.9,647.3 L491.6,650.3 C495.4,650.8 497.8,653.3 497.8,657.1 L497.8,683.1 C497.8,686.9 495.4,689.3 491.6,690.1 L455.9,696.6 Z" fill="#fff" stroke="#1c1c1c" stroke-width="1.5" />
<line x1="497.5" y1="688.0" x2="497.5" y2="733.4" stroke="#1c1c1c" stroke-width="0.9"/>
<line x1="456.0" y1="732.5" x2="497.8" y2="732.5" stroke="#1c1c1c" stroke-width="0.9"/>
<polygon points="456.0,732.5 468.6,730.5 468.6,734.5" fill="#1c1c1c"/>
<polygon points="497.8,732.5 485.2,734.5 485.2,730.5" fill="#1c1c1c"/>
<text x="476.9" y="727.6" font-size="17.4" text-anchor="middle">50</text>
<line x1="635.9" y1="640.7" x2="621.9" y2="652.5" stroke="#1c1c1c" stroke-width="0.85"/>
<line x1="635.9" y1="651.9" x2="621.9" y2="663.7" stroke="#1c1c1c" stroke-width="0.85"/>
<line x1="635.9" y1="663.0" x2="621.9" y2="674.8" stroke="#1c1c1c" stroke-width="0.85"/>
<line x1="635.9" y1="674.2" x2="621.9" y2="686.0" stroke="#1c1c1c" stroke-width="0.85"/>
<line x1="635.9" y1="685.5" x2="621.9" y2="697.3" stroke="#1c1c1c" stroke-width="0.85"/>
<line x1="627.0" y1="638.5" x2="622.0" y2="642.3" stroke="#1c1c1c" stroke-width="0.85"/>
<line x1="636.7" y1="696.0" x2="632.5" y2="699.6" stroke="#1c1c1c" stroke-width="0.85"/>
<line x1="604.9" y1="649.5" x2="636.7" y2="649.5" stroke="#1c1c1c" stroke-width="0.9"/>
<line x1="604.9" y1="687.5" x2="636.7" y2="687.5" stroke="#1c1c1c" stroke-width="0.9"/>
<line x1="613.0" y1="649.2" x2="637.0" y2="649.2" stroke="#666" stroke-width="1.7"/>
<line x1="613.0" y1="687.2" x2="637.0" y2="687.2" stroke="#666" stroke-width="1.7"/>
<line x1="622.0" y1="649.2" x2="637.0" y2="649.2" stroke="#333" stroke-width="1.7"/>
<line x1="622.0" y1="687.2" x2="637.0" y2="687.2" stroke="#333" stroke-width="1.7"/>
<circle cx="612.3" cy="649.2" r="0.90" fill="#fff" stroke="#1c1c1c" stroke-width="0.6"/>
<circle cx="612.3" cy="687.2" r="0.90" fill="#fff" stroke="#1c1c1c" stroke-width="0.6"/>
<line x1="606.5" y1="649.2" x2="606.5" y2="687.2" stroke="#1c1c1c" stroke-width="0.9"/>
<polygon points="606.5,649.2 608.5,661.8 604.5,661.8" fill="#1c1c1c"/>
<polygon points="606.5,687.2 604.5,674.6 608.5,674.6" fill="#1c1c1c"/>
<text x="603.0" y="668.4" font-size="17.4" text-anchor="middle" transform="rotate(-90 603.0 668.4)">45</text>
<path d="M637.4,643.3 L673.1,646.3 C676.9,646.8 679.3,649.3 679.3,653.1 L679.3,679.1 C679.3,682.9 676.9,685.3 673.1,686.1 L637.4,692.6 Z" fill="#fff" stroke="#1c1c1c" stroke-width="1.5" />
<line x1="637.5" y1="692.8" x2="637.5" y2="730.2" stroke="#1c1c1c" stroke-width="0.9"/>
<line x1="679.5" y1="680.0" x2="679.5" y2="730.2" stroke="#1c1c1c" stroke-width="0.9"/>
<line x1="637.4" y1="728.5" x2="679.3" y2="728.5" stroke="#1c1c1c" stroke-width="0.9"/>
<polygon points="637.4,728.5 650.0,726.5 650.0,730.5" fill="#1c1c1c"/>
<polygon points="679.3,728.5 666.7,730.5 666.7,726.5" fill="#1c1c1c"/>
<text x="658.0" y="724.6" font-size="17.4" text-anchor="middle">50</text>
<rect x="709.7" y="642.2" width="41.6" height="50.6" rx="3.2" ry="3.2" fill="none" stroke="#1c1c1c" stroke-width="1.6"/>
<line x1="712.5" y1="642.4" x2="748.5" y2="642.4" stroke="#1c1c1c" stroke-width="2.0"/>
<line x1="712.5" y1="692.6" x2="748.5" y2="692.6" stroke="#1c1c1c" stroke-width="1.8"/>
<rect x="721.4" y="644.5" width="18.1" height="46.0" fill="none" stroke="#1c1c1c" stroke-width="1.2"/>
<path d="M749.5,643.8 C746.0,645 743.4,647.5 743.4,651 L743.4,684 C743.4,687.5 746.0,690 749.5,691.2" fill="none" stroke="#1c1c1c" stroke-width="1.1" />
<path d="M747.0,643.3 C744.0,644.5 741.5,647 741.5,650.5 L741.5,684.5 C741.5,688 744.0,690.5 747.0,691.7" fill="none" stroke="#1c1c1c" stroke-width="0.8" />
<path d="M711.5,643.8 C715.0,645 717.6,647.5 717.6,651 L717.6,684 C717.6,687.5 715.0,690 711.5,691.2" fill="none" stroke="#1c1c1c" stroke-width="1.1" />
<path d="M714.0,643.3 C717.0,644.5 719.5,647 719.5,650.5 L719.5,684.5 C719.5,688 717.0,690.5 714.0,691.7" fill="none" stroke="#1c1c1c" stroke-width="0.8" />
<circle cx="730.4" cy="649.6" r="3.50" fill="none" stroke="#1c1c1c" stroke-width="1.2"/>
<circle cx="730.4" cy="686.7" r="3.50" fill="none" stroke="#1c1c1c" stroke-width="1.2"/>
<line x1="751.3" y1="642.5" x2="788.3" y2="642.5" stroke="#1c1c1c" stroke-width="0.9"/>
<line x1="751.3" y1="692.5" x2="788.3" y2="692.5" stroke="#1c1c1c" stroke-width="0.9"/>
<line x1="786.5" y1="642.1" x2="786.5" y2="692.8" stroke="#1c1c1c" stroke-width="0.9"/>
<polygon points="786.5,642.1 788.5,654.7 784.5,654.7" fill="#1c1c1c"/>
<polygon points="786.5,692.8 784.5,680.2 788.5,680.2" fill="#1c1c1c"/>
<text x="783.3" y="668.0" font-size="17.4" text-anchor="middle" transform="rotate(-90 783.3 668.0)">60</text>
<line x1="709.5" y1="692.8" x2="709.5" y2="730.2" stroke="#1c1c1c" stroke-width="0.9"/>
<line x1="751.5" y1="690.0" x2="751.5" y2="730.2" stroke="#1c1c1c" stroke-width="0.9"/>
<line x1="709.6" y1="728.5" x2="751.3" y2="728.5" stroke="#1c1c1c" stroke-width="0.9"/>
<polygon points="709.6,728.5 722.2,726.5 722.2,730.5" fill="#1c1c1c"/>
<polygon points="751.3,728.5 738.7,730.5 738.7,726.5" fill="#1c1c1c"/>
<text x="730.7" y="724.6" font-size="17.4" text-anchor="middle">50</text>
</svg>
</body></html>
